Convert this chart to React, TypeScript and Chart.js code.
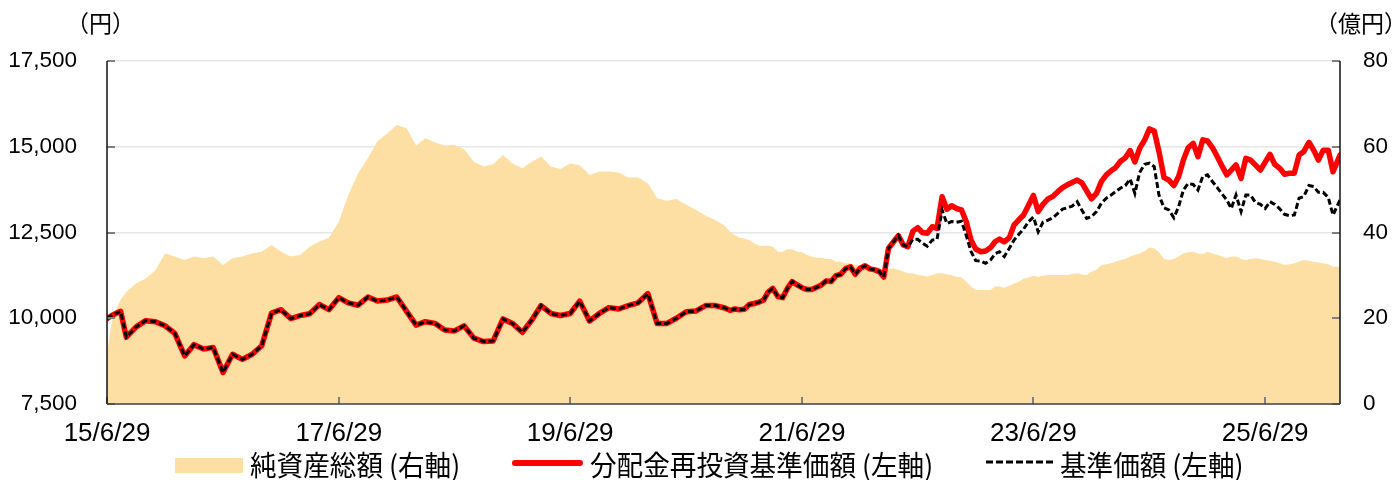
import { useEffect, useRef } from "react";
import { Chart, registerables } from "chart.js";

Chart.register(...registerables);

// ---- data ----
const dates: string[] = [
  "2015-06-29", "2015-07-17", "2015-07-29", "2015-08-11", "2015-08-29", "2015-09-29", "2015-10-29", "2015-11-29", "2015-12-29",
  "2016-01-29", "2016-02-29", "2016-03-29", "2016-04-29", "2016-05-29", "2016-06-29",
  "2016-07-29", "2016-08-29", "2016-09-29", "2016-10-29", "2016-11-29", "2016-12-29", "2017-01-29", "2017-02-28", "2017-03-29", "2017-04-29", "2017-05-29", "2017-06-29",
  "2017-07-29", "2017-08-29", "2017-09-29", "2017-10-29", "2017-11-29", "2017-12-29", "2018-01-29", "2018-02-28", "2018-03-29", "2018-04-29", "2018-05-29", "2018-06-29",
  "2018-07-29", "2018-08-29", "2018-09-29", "2018-10-29", "2018-11-29", "2018-12-29", "2019-01-29", "2019-02-28", "2019-03-29", "2019-04-29", "2019-05-29", "2019-06-29",
  "2019-07-29", "2019-08-29", "2019-09-29", "2019-10-29", "2019-11-29", "2019-12-29", "2020-01-29", "2020-02-29", "2020-03-29", "2020-04-29", "2020-05-29", "2020-06-29",
  "2020-07-29", "2020-08-29", "2020-09-29",
  "2020-10-29", "2020-11-14", "2020-11-29", "2020-12-14", "2020-12-29",
  "2021-01-14", "2021-01-29", "2021-02-14", "2021-02-28", "2021-03-14", "2021-03-29", "2021-04-14", "2021-04-29", "2021-05-14", "2021-05-29", "2021-06-14", "2021-06-29",
  "2021-07-14", "2021-07-29", "2021-08-14", "2021-08-29", "2021-09-14", "2021-09-29", "2021-10-14", "2021-10-29", "2021-11-14", "2021-11-29", "2021-12-14", "2021-12-29",
  "2022-01-14", "2022-01-29", "2022-02-14", "2022-02-28", "2022-03-14", "2022-03-29", "2022-04-14", "2022-04-29", "2022-05-14", "2022-05-29", "2022-06-14", "2022-06-29",
  "2022-07-14", "2022-07-29", "2022-08-14", "2022-08-29", "2022-09-14", "2022-09-29", "2022-10-14", "2022-10-29", "2022-11-14", "2022-11-29", "2022-12-14", "2022-12-29",
  "2023-01-14", "2023-01-29", "2023-02-14", "2023-02-28", "2023-03-14", "2023-03-29", "2023-04-14", "2023-04-29", "2023-05-14", "2023-05-29", "2023-06-14", "2023-06-29",
  "2023-07-14", "2023-07-29", "2023-08-14", "2023-08-29", "2023-09-14", "2023-09-29", "2023-10-14", "2023-10-29", "2023-11-14", "2023-11-29", "2023-12-14", "2023-12-29",
  "2024-01-14", "2024-01-29", "2024-02-14", "2024-02-29", "2024-03-14", "2024-03-29", "2024-04-14", "2024-04-29", "2024-05-14", "2024-05-29", "2024-06-14", "2024-06-29",
  "2024-07-14", "2024-07-29", "2024-08-14", "2024-08-29", "2024-09-14", "2024-09-29", "2024-10-14", "2024-10-29", "2024-11-14", "2024-11-29", "2024-12-14", "2024-12-29",
  "2025-01-14", "2025-01-29", "2025-02-14", "2025-02-28", "2025-03-14", "2025-03-29", "2025-04-14", "2025-04-29", "2025-05-14", "2025-05-29", "2025-06-14", "2025-06-29",
  "2025-07-14", "2025-07-29", "2025-08-14", "2025-08-29", "2025-09-14", "2025-09-29", "2025-10-14", "2025-10-29", "2025-11-14", "2025-11-29", "2025-12-14", "2025-12-29",
  "2026-01-14", "2026-01-29", "2026-02-20",
];

// 純資産総額 (億円, right axis)
const netAssets: number[] = [
  12, 20.5, 22.3, 24.3, 26.2, 28.1, 29.3, 31.2, 35.1,
  34.4, 33.6, 34.4, 34.0, 34.4, 32.4,
  34.0, 34.4, 35.1, 35.5, 37.1, 35.5, 34.4, 34.8, 36.7, 37.9, 38.8, 42.5,
  48.7, 53.8, 57.3, 61.3, 63.1, 65.1, 64.3, 60.3, 62.0, 61.0, 60.3, 60.4,
  59.5, 56.5, 55.4, 55.9, 58.1, 56.1, 55.0, 56.5, 57.7, 55.4, 54.8, 56.1,
  55.7, 53.4, 54.2, 54.2, 54.0, 52.8, 52.8, 51.5, 48.0, 47.4, 47.8, 46.4,
  45.3, 43.9, 42.9,
  41.5, 40.2, 39.4, 38.8, 38.6,
  38.2, 37.5, 36.9, 36.9, 36.9, 36.7, 35.5, 35.5, 36.1, 36.1, 35.5, 35.4,
  34.8, 34.4, 34.1, 34.1, 33.8, 33.8, 33.2, 33.2, 32.8, 32.8, 32.4, 32.4,
  32.0, 32.0, 31.8, 31.8, 31.0, 31.6, 31.6, 31.3, 30.9, 30.5, 30.5, 30.1,
  30.0, 29.7, 30.1, 30.5, 30.5, 30.2, 30.1, 29.7, 29.5, 28.5, 27.4, 26.6,
  26.6, 26.6, 26.6, 27.4, 27.4, 27.1, 27.6, 28.1, 28.5, 29.2, 29.5, 29.9,
  29.7, 29.9, 30.1, 30.1, 30.1, 30.1, 30.1, 30.3, 30.5, 30.2, 30.1, 30.9,
  31.3, 32.4, 32.6, 32.8, 33.2, 33.6, 33.8, 34.4, 34.8, 35.1, 35.7, 36.5,
  36.3, 35.4, 33.8, 33.6, 33.8, 34.4, 35.1, 35.4, 35.5, 35.1, 34.9, 35.5,
  35.1, 34.8, 34.4, 34.0, 34.4, 34.4, 33.8, 33.6, 33.8, 34.0, 33.8, 33.6,
  33.4, 33.2, 32.8, 32.4, 32.6, 32.8, 33.2, 33.6, 33.4, 33.2, 33.0, 32.8,
  32.6, 32.0, 32.0,
];

// 分配金再投資基準価額 (円, left axis)
const reinvestedNav: number[] = [
  9990, 10095, 10150, 10200, 9450, 9750, 9930, 9900, 9780,
  9560, 8900, 9230, 9100, 9150, 8420,
  8950, 8800, 8950, 9200, 10150, 10250, 9990, 10080, 10130, 10400, 10250, 10600,
  10450, 10380, 10620, 10500, 10530, 10620, 10200, 9800, 9900, 9850, 9660, 9630,
  9780, 9420, 9320, 9340, 9980, 9850, 9590, 9950, 10370, 10140, 10080, 10140,
  10500, 9920, 10140, 10310, 10270, 10370, 10450, 10720, 9850, 9850, 10000, 10190,
  10210, 10370, 10370,
  10300, 10230, 10270, 10250, 10260,
  10400, 10430, 10470, 10530, 10760, 10870, 10630, 10600, 10870, 11070, 10970, 10890,
  10840, 10840, 10900, 10970, 11090, 11070, 11240, 11280, 11450, 11500, 11280, 11450,
  11530, 11440, 11410, 11360, 11200, 12040, 12230, 12410, 12140, 12090, 12540, 12640,
  12500, 12480, 12670, 12620, 13545, 13180, 13280, 13200, 13160, 12820, 12280, 12020,
  11940, 11960, 12060, 12230, 12310, 12230, 12350, 12720, 12870, 13010, 13300, 13580,
  13110, 13320, 13480, 13550, 13690, 13810, 13890, 13960, 14030, 13950, 13710, 13480,
  13640, 13980, 14180, 14300, 14390, 14570, 14680, 14890, 14560, 14950, 15200, 15520,
  15460, 14860, 14100, 14030, 13870, 14130, 14610, 14970, 15100, 14710, 15200, 15170,
  14970, 14710, 14420, 14180, 14320, 14470, 14080, 14660, 14610, 14470, 14320, 14550,
  14780, 14490, 14370, 14200, 14230, 14230, 14760, 14860, 15130, 14900, 14610, 14900,
  14900, 14270, 14760,
];

// 基準価額 (円, left axis)
const nav: number[] = [
  9990, 10095, 10150, 10200, 9450, 9750, 9930, 9900, 9780,
  9560, 8900, 9230, 9100, 9150, 8420,
  8950, 8800, 8950, 9200, 10150, 10250, 9990, 10080, 10130, 10400, 10250, 10600,
  10450, 10380, 10620, 10500, 10530, 10620, 10200, 9800, 9900, 9850, 9660, 9630,
  9780, 9420, 9320, 9340, 9980, 9850, 9590, 9950, 10370, 10140, 10080, 10140,
  10500, 9920, 10140, 10310, 10270, 10370, 10450, 10720, 9850, 9850, 10000, 10190,
  10210, 10370, 10370,
  10300, 10230, 10270, 10250, 10260,
  10400, 10430, 10470, 10530, 10760, 10870, 10630, 10600, 10870, 11070, 10970, 10890,
  10840, 10840, 10900, 10970, 11090, 11070, 11240, 11280, 11450, 11500, 11280, 11450,
  11530, 11440, 11410, 11360, 11200, 12040, 12230, 12410, 12140, 12090, 12300, 12300,
  12190, 12100, 12280, 12300, 13155, 12760, 12820, 12800, 12830, 12420, 11950, 11680,
  11670, 11600, 11700, 11880, 11940, 11800, 12040, 12280, 12450, 12600, 12820, 12950,
  12520, 12800, 12860, 12930, 13060, 13180, 13220, 13270, 13400, 13150, 12910, 12960,
  13110, 13350, 13500, 13590, 13690, 13790, 13870, 14060, 13640, 14250, 14490, 14520,
  14420, 13590, 13220, 13160, 12930, 13250, 13740, 13930, 13900, 13740, 14130, 14180,
  13980, 13810, 13610, 13450, 13200, 13590, 13110, 13590, 13590, 13380, 13320, 13200,
  13400, 13320, 13190, 13030, 12990, 13010, 13500, 13550, 13870, 13840, 13670, 13670,
  13520, 13010, 13450,
];

const xTickDates = ["2015-06-29", "2017-06-29", "2019-06-29", "2021-06-29", "2023-06-29", "2025-06-29"];
const xTickLabels = ["15/6/29", "17/6/29", "19/6/29", "21/6/29", "23/6/29", "25/6/29"];
const leftTickValues = [7500, 10000, 12500, 15000, 17500];
const rightTickValues = [0, 20, 40, 60, 80];

const AREA_COLOR = "rgb(253,222,163)";
const ORIGIN = Date.UTC(2015, 5, 29);
function dayOf(s: string): number {
  const [y, m, d] = s.split("-").map(Number);
  return (Date.UTC(y, m - 1, d) - ORIGIN) / 86400000;
}

const axisDecor = {
  id: "axisDecor",
  afterDatasetsDraw(chart: any) {
    const { ctx, chartArea, scales } = chart;
    const { left, right, top, bottom } = chartArea;
    const line = (x1: number, y1: number, x2: number, y2: number) => {
      ctx.beginPath();
      ctx.moveTo(x1, y1);
      ctx.lineTo(x2, y2);
      ctx.stroke();
    };
    ctx.save();
    ctx.strokeStyle = "#7f7f7f";
    ctx.lineWidth = 2;
    leftTickValues.forEach((v) => {
      const y = Math.round(scales.y.getPixelForValue(v));
      line(left, y, left + 8, y);
    });
    rightTickValues.forEach((v) => {
      const y = Math.round(scales.y1.getPixelForValue(v));
      line(right - 8, y, right, y);
    });
    xTickDates.forEach((d) => {
      const x = Math.round(scales.x.getPixelForValue(dayOf(d)));
      line(x, bottom, x, bottom - 7);
    });
    ctx.lineWidth = 1.5;
    ctx.strokeStyle = "#111";
    line(left, top, left, bottom);
    line(right, top, right, bottom);
    ctx.strokeStyle = "#404040";
    line(left, bottom, right, bottom);
    ctx.restore();
  },
};

export default function App() {
  const ref = useRef<HTMLCanvasElement>(null);

  useEffect(() => {
    const canvas = ref.current;
    if (!canvas) return;
    const xs = dates.map(dayOf);
    const tickFont = { family: "'Liberation Sans', Arial, sans-serif", size: 22.5 };
    const chart = new Chart(canvas, {
      type: "line",
      data: {
        datasets: [
          {
            label: "基準価額 (左軸)",
            data: xs.map((x, i) => ({ x, y: nav[i] })),
            yAxisID: "y",
            borderColor: "#000",
            borderWidth: 3,
            borderDash: [6, 3],
            pointRadius: 0,
            fill: false,
            order: 1,
          },
          {
            label: "分配金再投資基準価額 (左軸)",
            data: xs.map((x, i) => ({ x, y: reinvestedNav[i] })),
            yAxisID: "y",
            borderColor: "#ff0000",
            borderWidth: 5.5,
            borderJoinStyle: "round",
            borderCapStyle: "round",
            pointRadius: 0,
            fill: false,
            order: 2,
          },
          {
            label: "純資産総額 (右軸)",
            data: xs.map((x, i) => ({ x, y: netAssets[i] })),
            yAxisID: "y1",
            borderColor: "rgba(0,0,0,0)",
            borderWidth: 1,
            backgroundColor: AREA_COLOR,
            fill: "origin",
            pointRadius: 0,
            order: 3,
          },
        ],
      },
      options: {
        responsive: false,
        animation: false,
        devicePixelRatio: 1,
        layout: { padding: { top: 61, left: 0, right: 0, bottom: 0 } },
        plugins: { legend: { display: false }, tooltip: { enabled: false } },
        elements: { line: { tension: 0 } },
        scales: {
          x: {
            type: "linear",
            min: 0,
            max: dayOf(dates[dates.length - 1]),
            afterBuildTicks: (s: any) => {
              s.ticks = xTickDates.map((d) => ({ value: dayOf(d) }));
            },
            afterFit: (s: any) => {
              s.height = 76;
            },
            grid: { display: false, drawTicks: false },
            border: { display: false },
            ticks: {
              autoSkip: false,
              maxRotation: 0,
              padding: 14,
              color: "#000",
              font: { family: "'Liberation Sans', Arial, sans-serif", size: 26 },
              callback: (_v: any, i: number) => xTickLabels[i],
            },
          },
          y: {
            position: "left",
            min: 7500,
            max: 17500,
            afterBuildTicks: (s: any) => {
              s.ticks = leftTickValues.map((v) => ({ value: v }));
            },
            afterFit: (s: any) => {
              s.width = 107;
            },
            grid: { color: "#e6e6e6", lineWidth: 1.5, drawTicks: false },
            border: { display: false },
            ticks: {
              padding: 30,
              color: "#000",
              font: tickFont,
              callback: (v: any) => Number(v).toLocaleString("en-US"),
            },
          },
          y1: {
            position: "right",
            min: 0,
            max: 80,
            afterBuildTicks: (s: any) => {
              s.ticks = rightTickValues.map((v) => ({ value: v }));
            },
            afterFit: (s: any) => {
              s.width = 59;
            },
            grid: { display: false, drawTicks: false },
            border: { display: false },
            ticks: {
              padding: 23,
              color: "#000",
              font: tickFont,
              callback: (v: any) => String(v),
            },
          },
        },
      },
      plugins: [axisDecor],
    } as any);
    return () => chart.destroy();
  }, []);

  const jp = "'Noto Sans CJK JP', sans-serif";
  const legendText: any = {
    position: "absolute",
    top: 450,
    fontFamily: jp,
    fontSize: 28,
    lineHeight: "28px",
    color: "#000",
    whiteSpace: "nowrap",
    transform: "scaleX(0.95)",
    transformOrigin: "0 0",
  };
  const unitText: any = { position: "absolute", top: 11, fontFamily: jp, fontSize: 23, lineHeight: "23px", color: "#000", whiteSpace: "nowrap" };

  return (
    <div style={{ position: "absolute", left: 0, top: 0, width: 1399, height: 480, overflow: "hidden", background: "#fff" }}>
      <canvas ref={ref} width={1399} height={480} style={{ position: "absolute", left: 0, top: 0, width: 1399, height: 480 }} />
      <div style={{ ...unitText, left: 66 }}>（円）</div>
      <div style={{ ...unitText, left: 1315 }}>（億円）</div>
      <div style={{ position: "absolute", left: 175, top: 458, width: 68, height: 15, background: AREA_COLOR }} />
      <div style={{ ...legendText, left: 250 }}>純資産総額 (右軸)</div>
      <div style={{ position: "absolute", left: 512, top: 460, width: 71, height: 6, background: "#ff0000", borderRadius: 3 }} />
      <div style={{ ...legendText, left: 590 }}>分配金再投資基準価額 (左軸)</div>
      <svg style={{ position: "absolute", left: 986, top: 455 }} width={72} height={14}>
        <line x1={0} y1={7} x2={70} y2={7} stroke="#000" strokeWidth={3} strokeDasharray="7 3" />
      </svg>
      <div style={{ ...legendText, left: 1060 }}>基準価額 (左軸)</div>
    </div>
  );
}
